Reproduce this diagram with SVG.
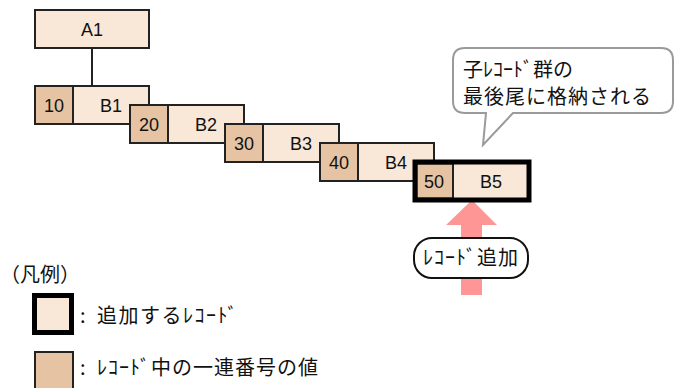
<svg xmlns="http://www.w3.org/2000/svg" width="674" height="388" viewBox="0 0 674 388">
<style>
.rec{fill:#f9e8d8;stroke:#222;stroke-width:2}
.num{fill:#e6c3a2;stroke:#222;stroke-width:2}
.lbl{font-family:"Liberation Sans",Arial,sans-serif;font-size:18px;fill:#111;text-anchor:middle}
.jp{font-family:"Noto Sans CJK JP","Noto Sans",sans-serif;font-size:20px;fill:#111}
</style>
<rect width="674" height="388" fill="#fff"/>
<g id="connectors">
<line x1="92" y1="48" x2="92" y2="86" stroke="#222" stroke-width="2"/>
<path id="arrow" d="M461,225 L446,225 L472,200 L497,225 L482,225 L482,295 L461,295 Z" fill="#ff9696"/>
</g>
<g id="A1"><rect class="rec" x="35" y="10" width="114" height="38"/><text class="lbl" x="92" y="36">A1</text></g>
<g id="B1"><rect class="rec" x="35" y="86" width="114" height="38"/><rect class="num" x="35" y="86" width="38" height="38"/><text class="lbl" x="54" y="112">10</text><text class="lbl" x="111" y="112">B1</text></g>
<g id="B2"><rect class="rec" x="130" y="105" width="114" height="38"/><rect class="num" x="130" y="105" width="38" height="38"/><text class="lbl" x="149" y="131">20</text><text class="lbl" x="206" y="131">B2</text></g>
<g id="B3"><rect class="rec" x="225" y="124" width="114" height="38"/><rect class="num" x="225" y="124" width="38" height="38"/><text class="lbl" x="244" y="150">30</text><text class="lbl" x="301" y="150">B3</text></g>
<g id="B4"><rect class="rec" x="320" y="143" width="114" height="38"/><rect class="num" x="320" y="143" width="38" height="38"/><text class="lbl" x="339" y="169">40</text><text class="lbl" x="396" y="169">B4</text></g>
<g id="B5"><rect class="rec" x="415" y="162" width="114" height="38" stroke-width="5"/><rect class="num" x="416.5" y="163.5" width="36.5" height="35" stroke-width="2"/><rect x="415" y="162" width="114" height="38" fill="none" stroke="#000" stroke-width="5"/><text class="lbl" x="434" y="188">50</text><text class="lbl" x="491" y="188">B5</text></g>
<g id="callout">
<path d="M465,48 H661 Q673,48 673,60 V101 Q673,113 661,113 H513 L483,145 L486,113 H465 Q453,113 453,101 V60 Q453,48 465,48 Z" fill="#fff" stroke="#9a9a9a" stroke-width="2"/>
<text class="jp" x="463" y="77">子ﾚｺｰﾄﾞ群の</text>
<text class="jp" x="463" y="104" letter-spacing="1">最後尾に格納される</text>
</g>
<g id="add-label">
<rect x="414" y="238" width="114" height="40" rx="18" fill="#fff" stroke="#111" stroke-width="2"/>
<text class="jp" x="471" y="265" text-anchor="middle" letter-spacing="1">ﾚｺｰﾄﾞ追加</text>
</g>
<g id="legend">
<text class="jp" x="0" y="282">（凡例）</text>
<rect x="34.5" y="295.5" width="37" height="37" fill="#f9e8d8" stroke="#000" stroke-width="5"/>
<text class="jp" x="80" y="323">:</text>
<text class="jp" x="97" y="323" letter-spacing="1.5">追加するﾚｺｰﾄﾞ</text>
<rect x="35" y="352" width="38" height="40" fill="#e6c3a2" stroke="#222" stroke-width="2"/>
<text class="jp" x="80" y="375">:</text>
<text class="jp" x="97" y="375" letter-spacing="1">ﾚｺｰﾄﾞ中の一連番号の値</text>
</g>
</svg>
